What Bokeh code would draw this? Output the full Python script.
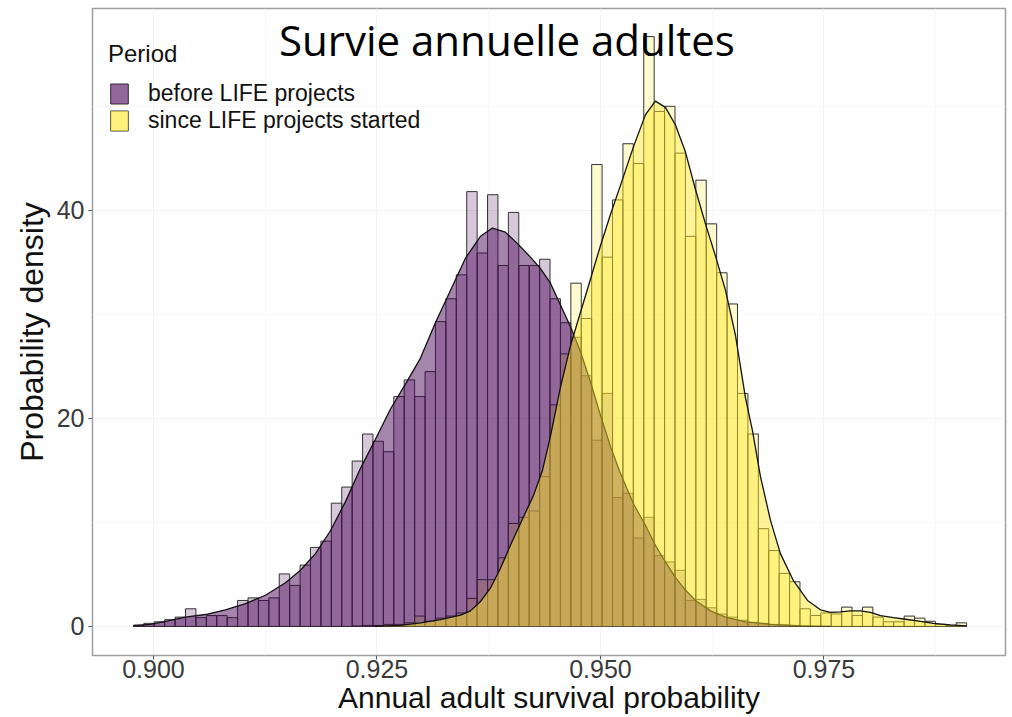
from bokeh.plotting import figure
from bokeh.models import (Range1d, FixedTicker, PrintfTickFormatter, Legend,
                          LegendItem, Label, ColumnDataSource)
from bokeh.embed import file_html
from bokeh.resources import INLINE

# Histogram binning (80 shared bins over the pooled posterior range)
bin_start = 0.89776
bin_width = 0.001165

# Posterior density per bin: before the LIFE projects
before_density = [
    0.1, 0.3, 0.45, 0.65, 0.9, 1.7, 0.85, 1.05, 1.05, 0.85,
    2.5, 2.75, 2.5, 2.75, 5.05, 3.95, 5.9, 7.6, 8.2, 11.85,
    13.4, 15.9, 18.5, 17.8, 16.8, 22.1, 23.7, 22.1, 24.5, 29.3,
    31.5, 33.8, 41.8, 35.9, 41.5, 34.7, 39.8, 34.7, 34.7, 35.3,
    31.5, 29.2, 27.8, 24.1, 17.9, 22.4, 12.4, 12.8, 8.5, 10.5,
    6.8, 6.2, 5.4, 2.5, 2.6, 1.8, 1.2, 0.9, 0.6, 0.4,
    0.3, 0.2, 0.15, 0.1, 0.05, 0.0, 0.0, 0.0, 0.0, 0.0,
    0.0, 0.0, 0.0, 0.0, 0.0, 0.0, 0.0, 0.0, 0.0, 0.0,
]

# Posterior density per bin: since the LIFE projects started
since_density = [
    0.0, 0.0, 0.0, 0.0, 0.0, 0.0, 0.0, 0.0, 0.0, 0.0,
    0.0, 0.0, 0.0, 0.0, 0.0, 0.0, 0.0, 0.0, 0.0, 0.0,
    0.0, 0.05, 0.1, 0.1, 0.2, 0.2, 0.35, 1.0, 0.5, 0.8,
    1.0, 1.3, 2.7, 4.5, 4.5, 6.6, 9.9, 10.5, 11.1, 14.4,
    21.3, 26.2, 33.0, 29.6, 44.4, 35.5, 41.0, 46.4, 44.5, 56.7,
    49.5, 50.0, 45.5, 37.5, 42.9, 38.7, 34.0, 31.0, 22.4, 18.5,
    9.4, 7.3, 5.1, 4.3, 1.7, 1.06, 1.3, 1.2, 1.86, 1.06,
    1.86, 0.9, 0.45, 0.45, 1.0, 0.8, 0.5, 0.2, 0.1, 0.35,
]

# Kernel density estimates (survival value, density)
before_kde_x = [
    0.89776, 0.89966, 0.90134, 0.90358, 0.90581, 0.90805, 0.91029, 0.91253,
    0.91477, 0.91644, 0.91812, 0.91980, 0.92148, 0.92316, 0.92483, 0.92651,
    0.92819, 0.92987, 0.93154, 0.93322, 0.93490, 0.93658, 0.93792, 0.93937,
    0.94072, 0.94217, 0.94329, 0.94441, 0.94553, 0.94665, 0.94777, 0.94889,
    0.95000, 0.95112, 0.95224, 0.95369, 0.95504, 0.95615, 0.95727, 0.95839,
    0.95951, 0.96063, 0.96231, 0.96399, 0.96622, 0.96902, 0.97237, 0.97573,
]
before_kde_y = [
    0.1, 0.2, 0.5, 0.9, 1.15, 1.6, 2.2, 3.0,
    4.2, 5.4, 7.0, 9.2, 12.0, 15.2, 18.0, 20.9,
    23.3, 25.8, 29.2, 32.3, 35.4, 37.5, 38.3, 37.9,
    36.8, 35.5, 34.4, 33.0, 30.9, 28.8, 26.4, 23.5,
    20.3, 17.3, 14.7, 11.8, 9.7, 7.8, 6.2, 4.7,
    3.5, 2.5, 1.5, 0.9, 0.45, 0.2, 0.05, 0.0,
]
since_kde_x = [
    0.92461, 0.92763, 0.92987, 0.93210, 0.93434, 0.93546, 0.93658, 0.93770,
    0.93882, 0.93993, 0.94105, 0.94251, 0.94351, 0.94441, 0.94553, 0.94665,
    0.94777, 0.94889, 0.95000, 0.95112, 0.95224, 0.95369, 0.95504, 0.95615,
    0.95727, 0.95839, 0.95951, 0.96063, 0.96175, 0.96287, 0.96399, 0.96510,
    0.96622, 0.96701, 0.96790, 0.96902, 0.97013, 0.97159, 0.97316, 0.97461,
    0.97573, 0.97685, 0.97797, 0.97909, 0.98021, 0.98133, 0.98278, 0.98434,
    0.98580, 0.98725, 0.98915, 0.99094,
]
since_kde_y = [
    0.0, 0.1, 0.35, 0.65, 1.1, 1.5, 2.4, 3.7,
    5.6, 7.8, 9.9, 12.6, 15.0, 18.3, 23.0, 27.0,
    30.2, 33.4, 36.6, 39.6, 42.4, 46.1, 49.2, 50.5,
    49.9, 48.2, 45.6, 42.0, 38.7, 35.6, 32.3, 28.0,
    22.0, 18.8, 14.4, 10.2, 7.0, 4.4, 2.5, 1.6,
    1.35, 1.4, 1.5, 1.5, 1.35, 1.05, 0.85, 0.67,
    0.5, 0.3, 0.15, 0.05,
]

x_ticks = [0.900, 0.925, 0.950, 0.975]
y_ticks = [0, 20, 40]
period_labels = ["before LIFE projects", "since LIFE projects started"]
period_colors = ["#440154", "#FDE725"]

FONT = "Liberation Sans"

lefts = [bin_start + i * bin_width for i in range(len(before_density))]
rights = [x + bin_width for x in lefts]

p = figure(width=1012, height=717, output_backend="svg", toolbar_location=None,
           x_range=Range1d(0.89318, 0.99531), y_range=Range1d(-2.79, 59.4),
           min_border_left=92, min_border_right=7, min_border_top=8,
           min_border_bottom=62, background_fill_color="white",
           border_fill_color="white")

p.outline_line_color = "#9e9e9e"
p.outline_line_width = 1.5

# Axes
p.xaxis.ticker = FixedTicker(ticks=x_ticks,
                             minor_ticks=[0.8875, 0.9125, 0.9375, 0.9625, 0.9875])
p.yaxis.ticker = FixedTicker(ticks=y_ticks, minor_ticks=[10, 30, 50])
p.xaxis.formatter = PrintfTickFormatter(format="%.3f")
p.yaxis.formatter = PrintfTickFormatter(format="%d")
for ax in (p.xaxis, p.yaxis):
    ax.axis_line_color = None
    ax.major_tick_line_color = "#555555"
    ax.major_tick_out = 4
    ax.major_tick_in = 0
    ax.minor_tick_line_color = None
    ax.major_label_text_font = FONT
    ax.major_label_text_font_size = "25px"
    ax.major_label_text_color = "#3a3a3a"
    ax.axis_label_text_font = FONT
    ax.axis_label_text_font_style = "normal"
    ax.axis_label_text_color = "#111111"
p.xaxis.axis_label_text_font_size = "30px"
p.yaxis.axis_label_text_font_size = "32px"
p.xaxis.axis_label = "Annual adult survival probability"
p.yaxis.axis_label = "Probability density"
p.xaxis.major_label_standoff = 0
p.yaxis.major_label_standoff = 4
p.xaxis.axis_label_standoff = 0
p.yaxis.axis_label_standoff = 4

p.xgrid.grid_line_color = "#f3f3f3"
p.ygrid.grid_line_color = "#f3f3f3"
p.xgrid.minor_grid_line_color = "#f8f8f8"
p.ygrid.minor_grid_line_color = "#f8f8f8"

# Histograms (both periods share the bins)
hist_renderers = []
for dens, col in zip([before_density, since_density], period_colors):
    src = ColumnDataSource(dict(left=lefts, right=rights, top=dens,
                                bottom=[0] * len(dens)))
    r = p.quad(left="left", right="right", top="top", bottom="bottom",
               source=src, fill_color=col, fill_alpha=0.22,
               line_color="#333333", line_width=1)
    hist_renderers.append(r)

# Density curves drawn over the bars
area_renderers = []
for xs, ys, col in [(before_kde_x, before_kde_y, period_colors[0]),
                    (since_kde_x, since_kde_y, period_colors[1])]:
    a = p.varea(x=xs, y1=[0] * len(xs), y2=ys, fill_color=col, fill_alpha=0.48)
    p.line(x=xs, y=ys, line_color="#111111", line_width=1.3)
    area_renderers.append(a)

legend = Legend(items=[
    LegendItem(label=period_labels[0], renderers=[hist_renderers[0], area_renderers[0]]),
    LegendItem(label=period_labels[1], renderers=[hist_renderers[1], area_renderers[1]]),
], location=(16, 521))
legend.title = "Period"
legend.title_text_font = FONT
legend.title_text_font_size = "24px"
legend.title_text_font_style = "normal"
legend.title_text_color = "#111111"
legend.title_standoff = 12
legend.label_text_font = FONT
legend.label_text_font_size = "23px"
legend.label_text_color = "#111111"
legend.glyph_width = 22
legend.glyph_height = 25
legend.label_height = 22
legend.label_standoff = 18
legend.spacing = 0
legend.padding = 0
legend.margin = 0
legend.background_fill_alpha = 0
legend.border_line_color = None
p.add_layout(legend)

title = Label(x=0.93954, y=56.4, text="Survie annuelle adultes",
              text_font="Open Sans", text_font_size="42px",
              text_align="center", text_baseline="alphabetic",
              text_color="#000000")
p.add_layout(title)

open("out.html", "w").write(file_html(p, INLINE))
